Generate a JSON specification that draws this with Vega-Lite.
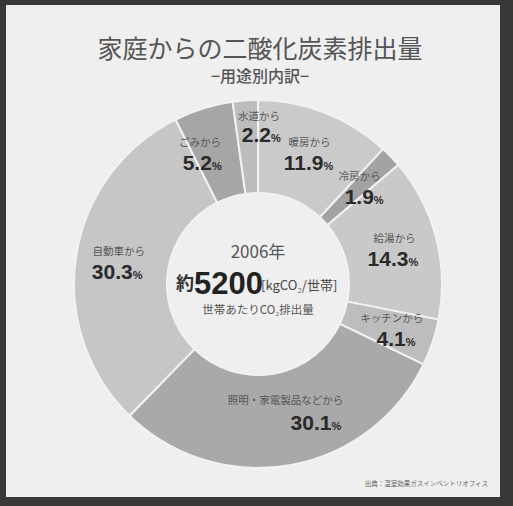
{
  "$schema": "https://vega.github.io/schema/vega-lite/v6.json",
  "width": 513,
  "height": 506,
  "autosize": {"type": "fit", "contains": "padding"},
  "padding": {"left": 6, "top": 5, "right": 13, "bottom": 9},
  "background": "#383838",
  "view": {"fill": "#efefef", "stroke": null},
  "title": {
    "text": "家庭からの二酸化炭素排出量",
    "subtitle": "−用途別内訳−",
    "offset": -80,
    "anchor": "middle",
    "dx": 7,
    "font": "Noto Sans CJK JP",
    "fontSize": 25,
    "fontWeight": "normal",
    "color": "#555555",
    "subtitleFont": "Noto Sans CJK JP",
    "subtitleFontSize": 16,
    "subtitleFontWeight": 500,
    "subtitleColor": "#555555",
    "subtitlePadding": 6
  },
  "data": {
    "values": [
      {"order": 1, "category": "暖房から", "share": 11.9, "pct": "11.9"},
      {"order": 2, "category": "冷房から", "share": 1.9, "pct": "1.9"},
      {"order": 3, "category": "給湯から", "share": 14.3, "pct": "14.3"},
      {"order": 4, "category": "キッチンから", "share": 4.1, "pct": "4.1"},
      {"order": 5, "category": "照明・家電製品などから", "share": 30.1, "pct": "30.1"},
      {"order": 6, "category": "自動車から", "share": 30.3, "pct": "30.3"},
      {"order": 7, "category": "ごみから", "share": 5.2, "pct": "5.2"},
      {"order": 8, "category": "水道から", "share": 2.2, "pct": "2.2"}
    ]
  },
  "transform": [
    {"stack": "share", "groupby": [], "sort": [{"field": "order", "order": "ascending"}], "as": ["cum_start", "cum_end"]}
  ],
  "layer": [
    {
      "mark": {"type": "arc", "outerRadius": 184, "innerRadius": 91, "stroke": "#f2f2f2", "strokeWidth": 2, "xOffset": 5, "yOffset": 33},
      "encoding": {
        "theta": {"field": "cum_start", "type": "quantitative", "scale": {"domain": [0, 100]}},
        "theta2": {"field": "cum_end"},
        "color": {
          "field": "category",
          "type": "nominal",
          "scale": {
            "domain": ["暖房から", "冷房から", "給湯から", "キッチンから", "照明・家電製品などから", "自動車から", "ごみから", "水道から"],
            "range": ["#cacaca", "#a2a2a2", "#c9c9c9", "#bdbdbd", "#a9a9a9", "#c6c6c6", "#a6a6a6", "#bcbcbc"]
          },
          "legend": null
        }
      }
    },
    {
      "layer": [
        {
          "mark": {"type": "text", "radius": 141, "dy": -10, "xOffset": 5, "yOffset": 33, "font": "Noto Sans CJK JP", "fontSize": 10.5, "fill": "#555555"},
          "encoding": {"text": {"condition": {"test": "indexof(['ごみから', '水道から', '照明・家電製品などから'], datum.category) >= 0", "value": ""}, "field": "category"}}
        },
        {
          "mark": {"type": "text", "radius": 141, "dy": 17, "dx": 14, "align": "right", "baseline": "alphabetic", "xOffset": 5, "yOffset": 33, "font": "Liberation Sans", "fontSize": 21, "fontWeight": "bold", "fill": "#2a2a2a"},
          "encoding": {"text": {"condition": {"test": "indexof(['ごみから', '水道から', '照明・家電製品などから'], datum.category) >= 0", "value": ""}, "field": "pct"}}
        },
        {
          "mark": {"type": "text", "radius": 141, "dy": 17, "dx": 14, "align": "left", "baseline": "alphabetic", "xOffset": 5, "yOffset": 33, "font": "Liberation Sans", "fontSize": 11, "fontWeight": "bold", "fill": "#2a2a2a"},
          "encoding": {"text": {"condition": {"test": "indexof(['ごみから', '水道から', '照明・家電製品などから'], datum.category) >= 0", "value": ""}, "value": "%"}}
        },
        {
          "mark": {"type": "text", "radius": 125, "dx": 6, "dy": -6, "xOffset": 5, "yOffset": 33, "font": "Noto Sans CJK JP", "fontSize": 10.5, "fill": "#555555"},
          "encoding": {"text": {"condition": {"test": "datum.category === '照明・家電製品などから'", "field": "category"}, "value": ""}}
        },
        {
          "mark": {"type": "text", "radius": 125, "dy": 23, "dx": 52, "align": "right", "baseline": "alphabetic", "xOffset": 5, "yOffset": 33, "font": "Liberation Sans", "fontSize": 21, "fontWeight": "bold", "fill": "#2a2a2a"},
          "encoding": {"text": {"condition": {"test": "datum.category === '照明・家電製品などから'", "field": "pct"}, "value": ""}}
        },
        {
          "mark": {"type": "text", "radius": 125, "dy": 23, "dx": 52, "align": "left", "baseline": "alphabetic", "xOffset": 5, "yOffset": 33, "font": "Liberation Sans", "fontSize": 11, "fontWeight": "bold", "fill": "#2a2a2a"},
          "encoding": {"text": {"condition": {"test": "datum.category === '照明・家電製品などから'", "value": "%"}, "value": ""}}
        }
      ],
      "encoding": {
        "theta": {"field": "share", "type": "quantitative", "stack": true},
        "order": {"field": "order", "type": "quantitative"}
      }
    },
    {
      "transform": [{"filter": {"field": "category", "equal": "ごみから"}}],
      "layer": [
        {
          "mark": {"type": "text", "radius": 143, "dy": -10, "xOffset": 11, "yOffset": 30, "font": "Noto Sans CJK JP", "fontSize": 10.5, "fill": "#555555"},
          "encoding": {"text": {"field": "category"}}
        },
        {
          "mark": {"type": "text", "radius": 143, "dy": 17, "dx": 12, "align": "right", "baseline": "alphabetic", "xOffset": 11, "yOffset": 30, "font": "Liberation Sans", "fontSize": 21, "fontWeight": "bold", "fill": "#2a2a2a"},
          "encoding": {"text": {"field": "pct"}}
        },
        {
          "mark": {"type": "text", "radius": 143, "dy": 17, "dx": 12, "align": "left", "baseline": "alphabetic", "xOffset": 11, "yOffset": 30, "font": "Liberation Sans", "fontSize": 11, "fontWeight": "bold", "fill": "#2a2a2a"},
          "encoding": {"text": {"value": "%"}}
        }
      ],
      "encoding": {
        "theta": {"field": "cum_start", "type": "quantitative"}
      }
    },
    {
      "transform": [{"filter": {"field": "category", "equal": "水道から"}}],
      "layer": [
        {
          "mark": {"type": "text", "radius": 158, "dy": -9, "xOffset": 6, "yOffset": 33, "font": "Noto Sans CJK JP", "fontSize": 10.5, "fill": "#555555"},
          "encoding": {"text": {"field": "category"}}
        },
        {
          "mark": {"type": "text", "radius": 158, "dy": 16, "dx": 12, "align": "right", "baseline": "alphabetic", "xOffset": 6, "yOffset": 33, "font": "Liberation Sans", "fontSize": 21, "fontWeight": "bold", "fill": "#2a2a2a"},
          "encoding": {"text": {"field": "pct"}}
        },
        {
          "mark": {"type": "text", "radius": 158, "dy": 16, "dx": 12, "align": "left", "baseline": "alphabetic", "xOffset": 6, "yOffset": 33, "font": "Liberation Sans", "fontSize": 11, "fontWeight": "bold", "fill": "#2a2a2a"},
          "encoding": {"text": {"value": "%"}}
        }
      ],
      "encoding": {
        "theta": {"field": "cum_end", "type": "quantitative"}
      }
    },
    {
      "data": {"values": [{"line": "2006年"}]},
      "mark": {"type": "text", "dy": -31, "xOffset": 5, "yOffset": 33, "font": "Noto Sans CJK JP", "fontSize": 17, "fill": "#555555"},
      "encoding": {"text": {"field": "line"}}
    },
    {
      "data": {"values": [{"line": "約"}]},
      "mark": {"type": "text", "dx": -64, "dy": 1, "align": "right", "xOffset": 5, "yOffset": 33, "font": "Noto Sans CJK JP", "fontSize": 18, "fontWeight": "bold", "fill": "#333333"},
      "encoding": {"text": {"field": "line"}}
    },
    {
      "data": {"values": [{"line": "5200"}]},
      "mark": {"type": "text", "dx": -64, "dy": 1, "align": "left", "xOffset": 5, "yOffset": 33, "font": "Liberation Sans", "fontSize": 31, "fontWeight": "bold", "fill": "#222222"},
      "encoding": {"text": {"field": "line"}}
    },
    {
      "data": {"values": [{"line": "[kgCO₂/世帯]"}]},
      "mark": {"type": "text", "dx": 3, "dy": 2, "align": "left", "xOffset": 5, "yOffset": 33, "font": "Noto Sans CJK JP", "fontSize": 13, "fill": "#444444"},
      "encoding": {"text": {"field": "line"}}
    },
    {
      "data": {"values": [{"line": "世帯あたりCO₂排出量"}]},
      "mark": {"type": "text", "dy": 27, "xOffset": 5, "yOffset": 33, "font": "Noto Sans CJK JP", "fontSize": 11.5, "fill": "#555555"},
      "encoding": {"text": {"field": "line"}}
    },
    {
      "data": {"values": [{"note": "出典：温室効果ガスインベントリオフィス"}]},
      "mark": {"type": "text", "x": "width", "y": "height", "dx": -12, "dy": -13, "align": "right", "font": "Noto Sans CJK JP", "fontSize": 6.5, "fill": "#666666"},
      "encoding": {"text": {"field": "note"}}
    }
  ]
}
